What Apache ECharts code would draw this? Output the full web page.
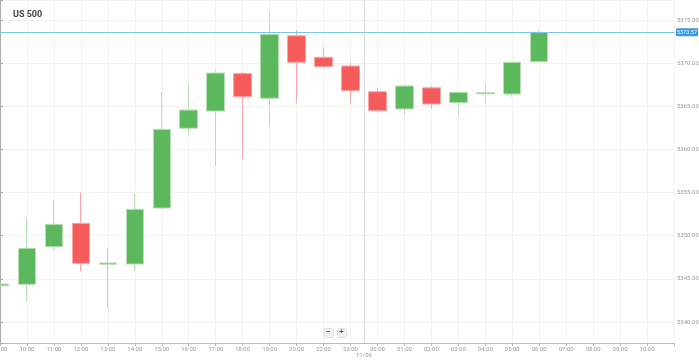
<!DOCTYPE html>
<html>
<head>
<meta charset="utf-8">
<script src="https://cdn.jsdelivr.net/npm/echarts@6/dist/echarts.min.js"></script>
<style>
html,body{margin:0;padding:0;background:#fff;}
#chart{width:699px;height:362px;}
</style>
</head>
<body>
<div id="chart"></div>
<script>
// Categories (hourly), with 21:00 missing (market break)
var categories = ['09:00','10:00','11:00','12:00','13:00','14:00','15:00','16:00','17:00','18:00','19:00','20:00','22:00','23:00','00:00','01:00','02:00','03:00','04:00','05:00','06:00','07:00','08:00','09:00','10:00','11:00'];
// OHLC values
var opens  = [5344.2, 5344.37, 5348.73, 5351.44, 5346.70, 5346.72, 5353.21, 5362.45, 5364.45, 5368.80, 5365.93, 5373.18, 5370.68, 5369.67, 5366.69, 5364.69, 5367.15, 5365.42, 5366.45, 5366.42, 5370.17];
var closes = [5344.4, 5348.54, 5351.32, 5346.80, 5346.85, 5353.06, 5362.33, 5364.57, 5368.86, 5366.11, 5373.34, 5370.10, 5369.59, 5366.81, 5364.49, 5367.35, 5365.27, 5366.62, 5366.60, 5370.10, 5373.57];
var lows   = [5344.0, 5342.35, 5348.35, 5345.91, 5341.59, 5345.91, 5353.00, 5361.59, 5358.08, 5358.89, 5362.63, 5365.35, 5369.50, 5365.35, 5364.30, 5364.11, 5364.69, 5364.11, 5365.35, 5366.11, 5370.05];
var highs  = [5344.6, 5352.09, 5354.06, 5355.03, 5348.54, 5354.84, 5366.62, 5367.66, 5369.20, 5369.00, 5375.85, 5373.84, 5371.84, 5370.05, 5367.08, 5367.55, 5367.35, 5366.70, 5367.58, 5370.10, 5373.84];
var currentPrice = 5373.57;
var yMin = 5337.57, yMax = 5377.32;
var daySplitLabel = '11/06';
var daySplitPos = 13.5;

var candleData = categories.map(function(c, i){
  if (i < opens.length) return [opens[i], closes[i], lows[i], highs[i]];
  return '-';
});

var chart = echarts.init(document.getElementById('chart'), null, {renderer:'canvas'});
var option = {
  animation: false,
  backgroundColor: '#fff',
  title: {
    text: 'US 500', left: 8, top: 5,
    textStyle: {fontSize: 9, fontWeight: 'bold', color: '#444', fontFamily: 'Roboto'}
  },
  grid: {left: 0, right: 25, top: 0, bottom: 19, containLabel: false, outerBoundsMode: 'none'},
  xAxis: [{
    type: 'category',
    data: categories,
    boundaryGap: false,
    axisLine: {show: true, lineStyle: {color: '#bbb', width: 1}},
    axisTick: {show: true, length: 3, alignWithLabel: true, lineStyle: {color: '#bbb'}},
    axisLabel: {
      fontSize: 6, color: '#999', margin: 3, fontFamily: 'Roboto', interval: 0,
      formatter: function(v, idx){ return idx === categories.length - 1 ? '' : v; }
    },
    splitLine: {show: true, interval: 0, lineStyle: {color: '#f2f2f2', width: 1}}
  }, {
    type: 'value', min: 0, max: categories.length - 1, show: false
  }],
  yAxis: {
    type: 'value',
    position: 'right',
    min: yMin, max: yMax,
    splitNumber: 8,
    scale: true,
    axisLine: {show: true, lineStyle: {color: '#aaa', width: 1}},
    axisTick: {show: true, length: 3, lineStyle: {color: '#aaa'}},
    axisLabel: {
      fontSize: 6, color: '#999', margin: 3, fontFamily: 'Roboto',
      formatter: function(v){ return (Math.abs(v/5 - Math.round(v/5)) < 1e-6) ? v.toFixed(2) : ''; }
    },
    splitLine: {show: true, lineStyle: {color: '#f2f2f2', width: 1}}
  },
  series: [{
    type: 'candlestick',
    data: candleData,
    barWidth: 18,
    clip: true,
    itemStyle: {
      color: '#5cb85c', color0: '#f75c5c',
      borderColor: '#b9dfb4', borderColor0: '#f9a8a8', borderWidth: 1
    },
    markLine: {
      silent: true, symbol: 'none', animation: false,
      lineStyle: {color: '#7cc4f0', type: 'solid', width: 1},
      label: {
        show: true, position: 'end', formatter: currentPrice.toFixed(2),
        backgroundColor: '#3399e8', color: '#fff', fontSize: 5.5, padding: [1, 1, 1, 1],
        borderRadius: 1, distance: 2, fontFamily: 'Roboto'
      },
      data: [{yAxis: currentPrice}]
    }
  }, {
    type: 'line',
    xAxisIndex: 1,
    data: [],
    markLine: {
      silent: true, symbol: 'none', animation: false,
      lineStyle: {color: '#d8d8d8', type: 'solid', width: 1},
      label: {show: true, position: 'start', formatter: daySplitLabel, color: '#999', fontSize: 6, distance: 9, fontFamily: 'Roboto'},
      data: [{xAxis: daySplitPos}]
    }
  }],
  graphic: [
    {type: 'rect', left: 324, top: 328, shape: {width: 9, height: 9, r: 1}, style: {fill: '#f2f2f2', stroke: '#e0e0e0'}},
    {type: 'text', left: 326, top: 328, style: {text: '\u2212', fontSize: 8, fill: '#555', fontWeight: 'bold'}},
    {type: 'rect', left: 337, top: 328, shape: {width: 9, height: 9, r: 1}, style: {fill: '#f2f2f2', stroke: '#e0e0e0'}},
    {type: 'text', left: 339, top: 328, style: {text: '+', fontSize: 8, fill: '#555', fontWeight: 'bold'}}
  ]
};
chart.setOption(option);
</script>
</body>
</html>
